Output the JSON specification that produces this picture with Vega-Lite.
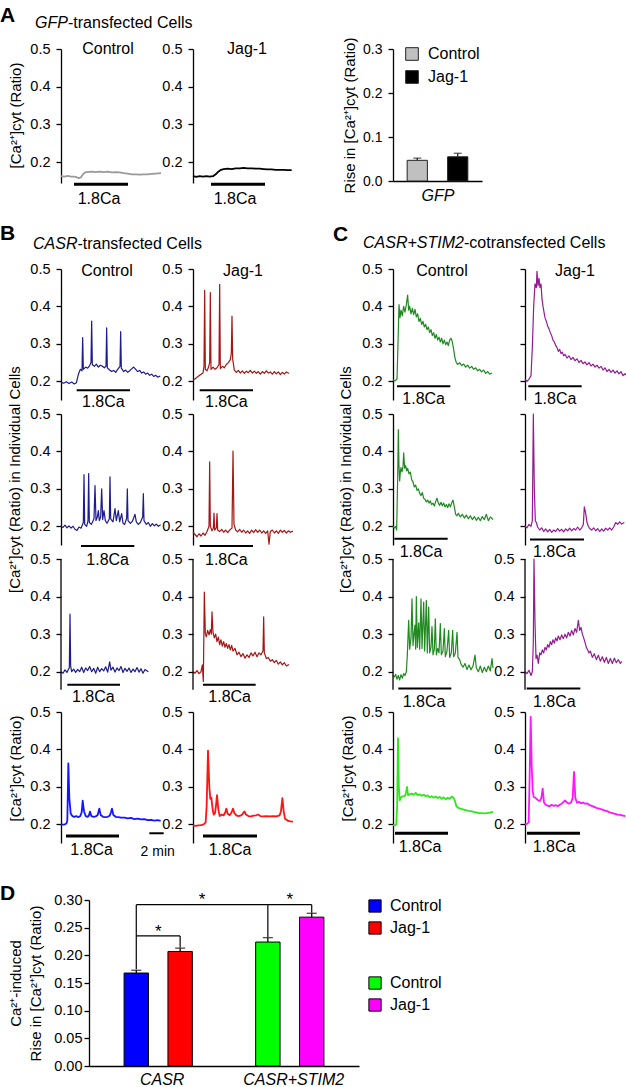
{
"$schema": "https://vega.github.io/schema/vega-lite/v6.json",
"padding": {"left": 0, "top": 5, "right": 0, "bottom": 0},
"background": "white",
"config": {
 "font": "Liberation Sans",
 "view": {"stroke": null},
 "axis": {"grid": false, "domainColor": "#000", "tickColor": "#000", "labelColor": "#000", "titleColor": "#000", "labelFont": "Liberation Sans", "titleFont": "Liberation Sans", "labelFontSize": 14.5, "titleFontSize": 15, "titleFontWeight": "normal", "tickSize": 5, "labelPadding": 6, "domainWidth": 1.3, "tickWidth": 1.3},
 "text": {"font": "Liberation Sans", "fontSize": 16, "baseline": "middle", "align": "center", "color": "#000"},
 "legend": {"labelFont": "Liberation Sans", "labelFontSize": 16, "labelColor": "#000"},
 "title": {"font": "Liberation Sans", "color": "#000"},
 "line": {"strokeJoin": "round"},
 "rule": {"color": "#000"}
},
"resolve": {"scale": {"fill": "independent", "color": "independent"}, "legend": {"fill": "independent", "color": "independent"}},
"datasets": {
 "a_c": [{"t":0,"v":0.163},{"t":0.5,"v":0.162},{"t":1,"v":0.164},{"t":1.5,"v":0.162},{"t":2,"v":0.162},{"t":2.4,"v":0.16},{"t":2.7,"v":0.158},{"t":3.0,"v":0.16},{"t":3.3,"v":0.168},{"t":3.6,"v":0.173},{"t":4,"v":0.174},{"t":4.6,"v":0.175},{"t":5.2,"v":0.174},{"t":5.8,"v":0.175},{"t":6.4,"v":0.174},{"t":7,"v":0.175},{"t":7.6,"v":0.173},{"t":8.2,"v":0.174},{"t":8.8,"v":0.173},{"t":9.4,"v":0.171},{"t":10,"v":0.17},{"t":10.6,"v":0.168},{"t":11.2,"v":0.168},{"t":11.8,"v":0.167},{"t":12.4,"v":0.168},{"t":13,"v":0.168},{"t":13.6,"v":0.169},{"t":14.2,"v":0.17},{"t":15,"v":0.171}],
 "a_j": [{"t":0,"v":0.163},{"t":0.5,"v":0.161},{"t":1,"v":0.163},{"t":1.5,"v":0.162},{"t":2,"v":0.163},{"t":2.5,"v":0.162},{"t":3,"v":0.163},{"t":3.4,"v":0.168},{"t":3.8,"v":0.175},{"t":4.2,"v":0.18},{"t":4.6,"v":0.182},{"t":5.2,"v":0.183},{"t":5.8,"v":0.182},{"t":6.4,"v":0.184},{"t":7,"v":0.184},{"t":7.6,"v":0.185},{"t":8.2,"v":0.184},{"t":8.8,"v":0.184},{"t":9.4,"v":0.183},{"t":10,"v":0.183},{"t":10.6,"v":0.182},{"t":11.2,"v":0.181},{"t":11.8,"v":0.181},{"t":12.4,"v":0.18},{"t":13,"v":0.18},{"t":13.6,"v":0.18},{"t":14.2,"v":0.179},{"t":14.8,"v":0.179}],
 "b1c": [{"t":0,"v":0.197},{"t":0.4,"v":0.195},{"t":0.8,"v":0.199},{"t":1.2,"v":0.194},{"t":1.6,"v":0.198},{"t":2.0,"v":0.193},{"t":2.3,"v":0.196},{"t":2.6,"v":0.218},{"t":2.9,"v":0.232},{"t":3.15,"v":0.228},{"t":3.25,"v":0.317},{"t":3.35,"v":0.232},{"t":3.7,"v":0.238},{"t":4.0,"v":0.235},{"t":4.3,"v":0.242},{"t":4.5,"v":0.25},{"t":4.6,"v":0.361},{"t":4.7,"v":0.245},{"t":5.0,"v":0.24},{"t":5.3,"v":0.246},{"t":5.6,"v":0.238},{"t":5.9,"v":0.243},{"t":6.2,"v":0.24},{"t":6.5,"v":0.236},{"t":6.75,"v":0.24},{"t":6.85,"v":0.343},{"t":6.95,"v":0.236},{"t":7.3,"v":0.23},{"t":7.6,"v":0.226},{"t":7.9,"v":0.229},{"t":8.2,"v":0.224},{"t":8.5,"v":0.232},{"t":8.85,"v":0.24},{"t":8.95,"v":0.333},{"t":9.05,"v":0.235},{"t":9.4,"v":0.226},{"t":9.7,"v":0.23},{"t":10.0,"v":0.224},{"t":10.3,"v":0.228},{"t":10.6,"v":0.233},{"t":10.9,"v":0.238},{"t":11.2,"v":0.232},{"t":11.5,"v":0.226},{"t":11.8,"v":0.229},{"t":12.1,"v":0.222},{"t":12.4,"v":0.225},{"t":12.7,"v":0.219},{"t":13.0,"v":0.222},{"t":13.3,"v":0.216},{"t":13.6,"v":0.219},{"t":13.9,"v":0.213},{"t":14.2,"v":0.216},{"t":14.5,"v":0.211},{"t":14.9,"v":0.214}],
 "b1j": [{"t":0,"v":0.203},{"t":0.3,"v":0.206},{"t":0.6,"v":0.211},{"t":0.9,"v":0.215},{"t":1.2,"v":0.219},{"t":1.5,"v":0.222},{"t":1.65,"v":0.24},{"t":1.75,"v":0.443},{"t":1.85,"v":0.232},{"t":2.1,"v":0.228},{"t":2.3,"v":0.236},{"t":2.5,"v":0.25},{"t":2.6,"v":0.437},{"t":2.7,"v":0.232},{"t":3.0,"v":0.238},{"t":3.3,"v":0.232},{"t":3.6,"v":0.236},{"t":3.9,"v":0.245},{"t":4.0,"v":0.459},{"t":4.1,"v":0.234},{"t":4.4,"v":0.24},{"t":4.7,"v":0.236},{"t":5.0,"v":0.245},{"t":5.3,"v":0.25},{"t":5.6,"v":0.258},{"t":5.75,"v":0.275},{"t":5.85,"v":0.374},{"t":5.95,"v":0.26},{"t":6.2,"v":0.23},{"t":6.5,"v":0.224},{"t":6.8,"v":0.229},{"t":7.1,"v":0.222},{"t":7.4,"v":0.228},{"t":7.7,"v":0.221},{"t":8.0,"v":0.227},{"t":8.3,"v":0.223},{"t":8.6,"v":0.229},{"t":8.9,"v":0.222},{"t":9.2,"v":0.227},{"t":9.5,"v":0.221},{"t":9.8,"v":0.226},{"t":10.1,"v":0.219},{"t":10.4,"v":0.226},{"t":10.7,"v":0.221},{"t":11.0,"v":0.228},{"t":11.3,"v":0.222},{"t":11.6,"v":0.225},{"t":11.9,"v":0.219},{"t":12.2,"v":0.226},{"t":12.5,"v":0.22},{"t":12.8,"v":0.225},{"t":13.1,"v":0.218},{"t":13.4,"v":0.224},{"t":13.7,"v":0.219},{"t":14.0,"v":0.225},{"t":14.4,"v":0.221}],
 "c1c": [{"t":0,"v":0.204},{"t":0.3,"v":0.201},{"t":0.6,"v":0.206},{"t":0.75,"v":0.3},{"t":0.9,"v":0.405},{"t":1.05,"v":0.37},{"t":1.2,"v":0.39},{"t":1.4,"v":0.375},{"t":1.6,"v":0.4},{"t":1.8,"v":0.385},{"t":2.0,"v":0.405},{"t":2.2,"v":0.43},{"t":2.35,"v":0.39},{"t":2.5,"v":0.4},{"t":2.7,"v":0.38},{"t":2.9,"v":0.395},{"t":3.1,"v":0.378},{"t":3.3,"v":0.392},{"t":3.5,"v":0.372},{"t":3.7,"v":0.38},{"t":3.9,"v":0.36},{"t":4.1,"v":0.368},{"t":4.3,"v":0.352},{"t":4.5,"v":0.36},{"t":4.7,"v":0.345},{"t":4.9,"v":0.352},{"t":5.1,"v":0.338},{"t":5.3,"v":0.345},{"t":5.5,"v":0.33},{"t":5.7,"v":0.338},{"t":5.9,"v":0.322},{"t":6.1,"v":0.33},{"t":6.3,"v":0.315},{"t":6.5,"v":0.325},{"t":6.7,"v":0.31},{"t":6.9,"v":0.318},{"t":7.1,"v":0.305},{"t":7.3,"v":0.315},{"t":7.5,"v":0.3},{"t":7.7,"v":0.31},{"t":7.9,"v":0.298},{"t":8.1,"v":0.305},{"t":8.3,"v":0.295},{"t":8.5,"v":0.31},{"t":8.7,"v":0.315},{"t":8.9,"v":0.305},{"t":9.1,"v":0.285},{"t":9.3,"v":0.262},{"t":9.5,"v":0.25},{"t":9.7,"v":0.245},{"t":10.0,"v":0.25},{"t":10.3,"v":0.242},{"t":10.6,"v":0.246},{"t":10.9,"v":0.238},{"t":11.2,"v":0.243},{"t":11.5,"v":0.235},{"t":11.8,"v":0.24},{"t":12.1,"v":0.232},{"t":12.4,"v":0.236},{"t":12.7,"v":0.228},{"t":13.0,"v":0.232},{"t":13.3,"v":0.225},{"t":13.6,"v":0.23},{"t":13.9,"v":0.221},{"t":14.2,"v":0.226},{"t":14.5,"v":0.219},{"t":14.85,"v":0.222}],
 "c1j": [{"t":0,"v":0.205},{"t":0.3,"v":0.2},{"t":0.6,"v":0.206},{"t":0.9,"v":0.215},{"t":1.1,"v":0.29},{"t":1.3,"v":0.4},{"t":1.5,"v":0.46},{"t":1.7,"v":0.45},{"t":1.8,"v":0.494},{"t":1.95,"v":0.455},{"t":2.1,"v":0.475},{"t":2.25,"v":0.45},{"t":2.4,"v":0.46},{"t":2.55,"v":0.42},{"t":2.7,"v":0.4},{"t":2.85,"v":0.385},{"t":3.0,"v":0.37},{"t":3.2,"v":0.36},{"t":3.4,"v":0.348},{"t":3.6,"v":0.34},{"t":3.8,"v":0.33},{"t":4.0,"v":0.322},{"t":4.2,"v":0.31},{"t":4.4,"v":0.305},{"t":4.6,"v":0.296},{"t":4.8,"v":0.29},{"t":5.0,"v":0.28},{"t":5.2,"v":0.285},{"t":5.4,"v":0.274},{"t":5.6,"v":0.278},{"t":5.8,"v":0.268},{"t":6.0,"v":0.272},{"t":6.3,"v":0.262},{"t":6.6,"v":0.268},{"t":6.9,"v":0.258},{"t":7.2,"v":0.264},{"t":7.5,"v":0.255},{"t":7.8,"v":0.26},{"t":8.1,"v":0.25},{"t":8.4,"v":0.256},{"t":8.7,"v":0.247},{"t":9.0,"v":0.252},{"t":9.3,"v":0.244},{"t":9.6,"v":0.25},{"t":9.9,"v":0.241},{"t":10.2,"v":0.246},{"t":10.5,"v":0.238},{"t":10.8,"v":0.243},{"t":11.1,"v":0.235},{"t":11.4,"v":0.24},{"t":11.7,"v":0.23},{"t":12.0,"v":0.236},{"t":12.3,"v":0.226},{"t":12.6,"v":0.232},{"t":12.9,"v":0.224},{"t":13.2,"v":0.23},{"t":13.5,"v":0.222},{"t":13.8,"v":0.228},{"t":14.1,"v":0.22},{"t":14.4,"v":0.226},{"t":14.7,"v":0.215},{"t":15.0,"v":0.22},{"t":15.2,"v":0.217}],
 "b2c": [{"t":0,"v":0.2},{"t":0.3,"v":0.197},{"t":0.6,"v":0.203},{"t":0.9,"v":0.196},{"t":1.2,"v":0.201},{"t":1.5,"v":0.195},{"t":1.8,"v":0.2},{"t":2.1,"v":0.192},{"t":2.4,"v":0.189},{"t":2.7,"v":0.198},{"t":3.0,"v":0.195},{"t":3.35,"v":0.21},{"t":3.45,"v":0.338},{"t":3.55,"v":0.205},{"t":3.85,"v":0.2},{"t":4.05,"v":0.215},{"t":4.15,"v":0.341},{"t":4.25,"v":0.21},{"t":4.55,"v":0.205},{"t":4.95,"v":0.22},{"t":5.1,"v":0.309},{"t":5.25,"v":0.215},{"t":5.45,"v":0.225},{"t":5.6,"v":0.242},{"t":5.75,"v":0.215},{"t":5.95,"v":0.225},{"t":6.1,"v":0.3},{"t":6.25,"v":0.218},{"t":6.45,"v":0.242},{"t":6.65,"v":0.215},{"t":6.9,"v":0.208},{"t":7.25,"v":0.22},{"t":7.35,"v":0.332},{"t":7.45,"v":0.22},{"t":7.8,"v":0.212},{"t":8.1,"v":0.247},{"t":8.3,"v":0.215},{"t":8.6,"v":0.242},{"t":8.8,"v":0.212},{"t":9.1,"v":0.234},{"t":9.3,"v":0.208},{"t":9.55,"v":0.205},{"t":9.85,"v":0.222},{"t":9.95,"v":0.3},{"t":10.05,"v":0.215},{"t":10.4,"v":0.208},{"t":10.7,"v":0.213},{"t":11.1,"v":0.232},{"t":11.3,"v":0.212},{"t":11.6,"v":0.205},{"t":11.9,"v":0.21},{"t":12.25,"v":0.225},{"t":12.35,"v":0.287},{"t":12.45,"v":0.215},{"t":12.8,"v":0.205},{"t":13.1,"v":0.21},{"t":13.4,"v":0.2},{"t":13.7,"v":0.207},{"t":14.0,"v":0.201},{"t":14.3,"v":0.206},{"t":14.6,"v":0.2},{"t":14.95,"v":0.204}],
 "b2j": [{"t":0,"v":0.185},{"t":0.3,"v":0.178},{"t":0.6,"v":0.172},{"t":0.9,"v":0.18},{"t":1.2,"v":0.174},{"t":1.5,"v":0.182},{"t":1.8,"v":0.176},{"t":2.1,"v":0.186},{"t":2.4,"v":0.2},{"t":2.5,"v":0.372},{"t":2.6,"v":0.2},{"t":2.85,"v":0.188},{"t":3.05,"v":0.195},{"t":3.15,"v":0.235},{"t":3.25,"v":0.19},{"t":3.5,"v":0.196},{"t":3.6,"v":0.234},{"t":3.7,"v":0.19},{"t":4.0,"v":0.186},{"t":4.3,"v":0.192},{"t":4.6,"v":0.184},{"t":4.9,"v":0.19},{"t":5.2,"v":0.183},{"t":5.5,"v":0.19},{"t":5.85,"v":0.195},{"t":6.0,"v":0.401},{"t":6.15,"v":0.205},{"t":6.4,"v":0.19},{"t":6.7,"v":0.185},{"t":7.0,"v":0.192},{"t":7.3,"v":0.184},{"t":7.6,"v":0.19},{"t":7.9,"v":0.182},{"t":8.2,"v":0.188},{"t":8.5,"v":0.181},{"t":8.8,"v":0.19},{"t":9.1,"v":0.183},{"t":9.4,"v":0.191},{"t":9.7,"v":0.184},{"t":10.0,"v":0.19},{"t":10.3,"v":0.182},{"t":10.6,"v":0.188},{"t":10.9,"v":0.181},{"t":11.2,"v":0.188},{"t":11.4,"v":0.152},{"t":11.6,"v":0.186},{"t":11.9,"v":0.19},{"t":12.2,"v":0.182},{"t":12.5,"v":0.188},{"t":12.8,"v":0.181},{"t":13.1,"v":0.19},{"t":13.4,"v":0.184},{"t":13.7,"v":0.189},{"t":14.0,"v":0.182},{"t":14.3,"v":0.188},{"t":14.6,"v":0.184},{"t":15.0,"v":0.187}],
 "c2c": [{"t":0,"v":0.2},{"t":0.2,"v":0.195},{"t":0.4,"v":0.2},{"t":0.55,"v":0.19},{"t":0.7,"v":0.33},{"t":0.8,"v":0.458},{"t":0.9,"v":0.36},{"t":1.0,"v":0.321},{"t":1.1,"v":0.345},{"t":1.2,"v":0.357},{"t":1.35,"v":0.345},{"t":1.5,"v":0.36},{"t":1.6,"v":0.396},{"t":1.75,"v":0.355},{"t":1.9,"v":0.362},{"t":2.05,"v":0.348},{"t":2.2,"v":0.355},{"t":2.4,"v":0.34},{"t":2.6,"v":0.345},{"t":2.8,"v":0.325},{"t":3.0,"v":0.318},{"t":3.2,"v":0.305},{"t":3.4,"v":0.31},{"t":3.6,"v":0.296},{"t":3.8,"v":0.3},{"t":4.0,"v":0.288},{"t":4.2,"v":0.282},{"t":4.4,"v":0.29},{"t":4.6,"v":0.275},{"t":4.8,"v":0.272},{"t":5.0,"v":0.265},{"t":5.2,"v":0.27},{"t":5.4,"v":0.262},{"t":5.6,"v":0.268},{"t":5.8,"v":0.258},{"t":6.0,"v":0.262},{"t":6.2,"v":0.254},{"t":6.4,"v":0.266},{"t":6.6,"v":0.275},{"t":6.8,"v":0.262},{"t":7.0,"v":0.256},{"t":7.2,"v":0.264},{"t":7.4,"v":0.255},{"t":7.6,"v":0.262},{"t":7.8,"v":0.252},{"t":8.0,"v":0.258},{"t":8.2,"v":0.25},{"t":8.4,"v":0.26},{"t":8.6,"v":0.252},{"t":8.8,"v":0.262},{"t":9.0,"v":0.27},{"t":9.2,"v":0.252},{"t":9.4,"v":0.232},{"t":9.6,"v":0.228},{"t":9.8,"v":0.235},{"t":10.1,"v":0.225},{"t":10.4,"v":0.232},{"t":10.7,"v":0.222},{"t":11.0,"v":0.23},{"t":11.3,"v":0.22},{"t":11.6,"v":0.228},{"t":11.9,"v":0.218},{"t":12.2,"v":0.226},{"t":12.5,"v":0.216},{"t":12.8,"v":0.224},{"t":13.1,"v":0.215},{"t":13.4,"v":0.226},{"t":13.7,"v":0.218},{"t":14.0,"v":0.232},{"t":14.3,"v":0.215},{"t":14.6,"v":0.225},{"t":15.0,"v":0.218}],
 "c2j": [{"t":0,"v":0.2},{"t":0.3,"v":0.196},{"t":0.6,"v":0.205},{"t":0.9,"v":0.2},{"t":1.1,"v":0.215},{"t":1.25,"v":0.5},{"t":1.4,"v":0.3},{"t":1.55,"v":0.215},{"t":1.7,"v":0.21},{"t":1.9,"v":0.198},{"t":2.2,"v":0.19},{"t":2.5,"v":0.196},{"t":2.8,"v":0.186},{"t":3.1,"v":0.193},{"t":3.4,"v":0.185},{"t":3.7,"v":0.192},{"t":4.0,"v":0.184},{"t":4.3,"v":0.19},{"t":4.6,"v":0.186},{"t":4.9,"v":0.194},{"t":5.2,"v":0.187},{"t":5.5,"v":0.192},{"t":5.8,"v":0.185},{"t":6.1,"v":0.193},{"t":6.4,"v":0.188},{"t":6.7,"v":0.195},{"t":7.0,"v":0.188},{"t":7.3,"v":0.194},{"t":7.6,"v":0.19},{"t":7.9,"v":0.198},{"t":8.2,"v":0.19},{"t":8.5,"v":0.196},{"t":8.75,"v":0.205},{"t":8.9,"v":0.252},{"t":9.1,"v":0.235},{"t":9.3,"v":0.21},{"t":9.5,"v":0.2},{"t":9.7,"v":0.194},{"t":10.0,"v":0.19},{"t":10.3,"v":0.196},{"t":10.6,"v":0.188},{"t":10.9,"v":0.194},{"t":11.2,"v":0.186},{"t":11.5,"v":0.193},{"t":11.8,"v":0.187},{"t":12.1,"v":0.195},{"t":12.4,"v":0.19},{"t":12.7,"v":0.196},{"t":13.0,"v":0.19},{"t":13.3,"v":0.198},{"t":13.6,"v":0.21},{"t":13.9,"v":0.205},{"t":14.2,"v":0.212},{"t":14.5,"v":0.206},{"t":14.9,"v":0.21}],
 "b3c": [{"t":0,"v":0.2},{"t":0.3,"v":0.196},{"t":0.6,"v":0.205},{"t":0.9,"v":0.198},{"t":1.1,"v":0.206},{"t":1.25,"v":0.21},{"t":1.35,"v":0.353},{"t":1.45,"v":0.215},{"t":1.6,"v":0.2},{"t":1.9,"v":0.207},{"t":2.2,"v":0.198},{"t":2.5,"v":0.206},{"t":2.8,"v":0.2},{"t":3.1,"v":0.212},{"t":3.4,"v":0.198},{"t":3.7,"v":0.21},{"t":4.0,"v":0.203},{"t":4.3,"v":0.214},{"t":4.6,"v":0.2},{"t":4.9,"v":0.209},{"t":5.2,"v":0.196},{"t":5.5,"v":0.212},{"t":5.8,"v":0.2},{"t":6.1,"v":0.208},{"t":6.4,"v":0.202},{"t":6.7,"v":0.213},{"t":7.0,"v":0.199},{"t":7.3,"v":0.226},{"t":7.5,"v":0.204},{"t":7.8,"v":0.212},{"t":8.1,"v":0.199},{"t":8.4,"v":0.21},{"t":8.7,"v":0.203},{"t":9.0,"v":0.214},{"t":9.3,"v":0.198},{"t":9.6,"v":0.209},{"t":9.9,"v":0.201},{"t":10.2,"v":0.21},{"t":10.5,"v":0.198},{"t":10.8,"v":0.207},{"t":11.1,"v":0.2},{"t":11.4,"v":0.211},{"t":11.7,"v":0.199},{"t":12.0,"v":0.208},{"t":12.3,"v":0.196},{"t":12.6,"v":0.206},{"t":13.1,"v":0.2}],
 "b3j": [{"t":0,"v":0.2},{"t":0.3,"v":0.196},{"t":0.6,"v":0.203},{"t":0.9,"v":0.195},{"t":1.2,"v":0.2},{"t":1.4,"v":0.218},{"t":1.55,"v":0.174},{"t":1.7,"v":0.412},{"t":1.85,"v":0.3},{"t":2.0,"v":0.293},{"t":2.2,"v":0.31},{"t":2.4,"v":0.298},{"t":2.6,"v":0.312},{"t":2.75,"v":0.3},{"t":2.85,"v":0.359},{"t":3.0,"v":0.305},{"t":3.2,"v":0.29},{"t":3.4,"v":0.3},{"t":3.6,"v":0.28},{"t":3.8,"v":0.292},{"t":4.0,"v":0.272},{"t":4.2,"v":0.285},{"t":4.4,"v":0.268},{"t":4.6,"v":0.28},{"t":4.8,"v":0.265},{"t":5.0,"v":0.275},{"t":5.2,"v":0.262},{"t":5.4,"v":0.272},{"t":5.6,"v":0.258},{"t":5.8,"v":0.27},{"t":6.0,"v":0.255},{"t":6.3,"v":0.262},{"t":6.6,"v":0.245},{"t":6.9,"v":0.252},{"t":7.2,"v":0.24},{"t":7.5,"v":0.248},{"t":7.8,"v":0.236},{"t":8.1,"v":0.245},{"t":8.4,"v":0.238},{"t":8.7,"v":0.25},{"t":9.0,"v":0.242},{"t":9.3,"v":0.252},{"t":9.6,"v":0.24},{"t":9.9,"v":0.25},{"t":10.2,"v":0.245},{"t":10.5,"v":0.255},{"t":10.6,"v":0.346},{"t":10.7,"v":0.25},{"t":11.0,"v":0.235},{"t":11.3,"v":0.238},{"t":11.6,"v":0.228},{"t":11.9,"v":0.232},{"t":12.2,"v":0.224},{"t":12.5,"v":0.23},{"t":12.8,"v":0.22},{"t":13.1,"v":0.226},{"t":13.4,"v":0.218},{"t":13.7,"v":0.224},{"t":14.0,"v":0.215},{"t":14.4,"v":0.219}],
 "c3c": [{"t":0,"v":0.19},{"t":0.2,"v":0.186},{"t":0.4,"v":0.193},{"t":0.6,"v":0.18},{"t":0.8,"v":0.19},{"t":1.0,"v":0.178},{"t":1.2,"v":0.192},{"t":1.4,"v":0.183},{"t":1.6,"v":0.195},{"t":1.8,"v":0.19},{"t":2.0,"v":0.2},{"t":2.15,"v":0.245},{"t":2.35,"v":0.337},{"t":2.5,"v":0.26},{"t":2.7,"v":0.29},{"t":2.85,"v":0.394},{"t":3.0,"v":0.27},{"t":3.15,"v":0.3},{"t":3.3,"v":0.324},{"t":3.4,"v":0.26},{"t":3.5,"v":0.4},{"t":3.65,"v":0.265},{"t":3.85,"v":0.33},{"t":4.0,"v":0.26},{"t":4.2,"v":0.394},{"t":4.35,"v":0.262},{"t":4.6,"v":0.385},{"t":4.75,"v":0.255},{"t":5.0,"v":0.39},{"t":5.15,"v":0.25},{"t":5.35,"v":0.372},{"t":5.5,"v":0.25},{"t":5.7,"v":0.265},{"t":5.85,"v":0.32},{"t":6.0,"v":0.245},{"t":6.2,"v":0.26},{"t":6.35,"v":0.341},{"t":6.5,"v":0.245},{"t":6.7,"v":0.262},{"t":6.9,"v":0.25},{"t":7.1,"v":0.328},{"t":7.25,"v":0.245},{"t":7.5,"v":0.255},{"t":7.7,"v":0.315},{"t":7.85,"v":0.24},{"t":8.1,"v":0.255},{"t":8.35,"v":0.31},{"t":8.5,"v":0.238},{"t":8.75,"v":0.25},{"t":8.95,"v":0.31},{"t":9.1,"v":0.24},{"t":9.35,"v":0.25},{"t":9.6,"v":0.305},{"t":9.75,"v":0.238},{"t":10.0,"v":0.232},{"t":10.2,"v":0.22},{"t":10.5,"v":0.212},{"t":10.8,"v":0.222},{"t":11.1,"v":0.206},{"t":11.4,"v":0.218},{"t":11.7,"v":0.205},{"t":12.0,"v":0.215},{"t":12.3,"v":0.244},{"t":12.5,"v":0.21},{"t":12.8,"v":0.2},{"t":13.1,"v":0.215},{"t":13.4,"v":0.198},{"t":13.7,"v":0.212},{"t":14.0,"v":0.2},{"t":14.3,"v":0.215},{"t":14.6,"v":0.202},{"t":14.85,"v":0.235},{"t":15.0,"v":0.21}],
 "c3j": [{"t":0,"v":0.2},{"t":0.3,"v":0.195},{"t":0.6,"v":0.204},{"t":0.9,"v":0.19},{"t":1.1,"v":0.2},{"t":1.25,"v":0.28},{"t":1.35,"v":0.5},{"t":1.5,"v":0.33},{"t":1.65,"v":0.235},{"t":1.8,"v":0.244},{"t":2.0,"v":0.222},{"t":2.2,"v":0.25},{"t":2.4,"v":0.245},{"t":2.6,"v":0.258},{"t":2.8,"v":0.25},{"t":3.0,"v":0.265},{"t":3.2,"v":0.258},{"t":3.4,"v":0.272},{"t":3.6,"v":0.265},{"t":3.8,"v":0.28},{"t":4.0,"v":0.272},{"t":4.2,"v":0.285},{"t":4.4,"v":0.276},{"t":4.6,"v":0.29},{"t":4.8,"v":0.282},{"t":5.0,"v":0.295},{"t":5.25,"v":0.285},{"t":5.5,"v":0.298},{"t":5.75,"v":0.288},{"t":6.0,"v":0.3},{"t":6.25,"v":0.29},{"t":6.5,"v":0.305},{"t":6.75,"v":0.295},{"t":7.0,"v":0.31},{"t":7.25,"v":0.298},{"t":7.5,"v":0.315},{"t":7.75,"v":0.305},{"t":8.0,"v":0.337},{"t":8.2,"v":0.31},{"t":8.4,"v":0.318},{"t":8.6,"v":0.3},{"t":8.8,"v":0.29},{"t":9.0,"v":0.278},{"t":9.2,"v":0.265},{"t":9.4,"v":0.258},{"t":9.6,"v":0.25},{"t":9.8,"v":0.255},{"t":10.1,"v":0.238},{"t":10.4,"v":0.248},{"t":10.7,"v":0.232},{"t":11.0,"v":0.244},{"t":11.3,"v":0.228},{"t":11.6,"v":0.24},{"t":11.9,"v":0.225},{"t":12.2,"v":0.238},{"t":12.5,"v":0.222},{"t":12.8,"v":0.235},{"t":13.1,"v":0.222},{"t":13.4,"v":0.236},{"t":13.7,"v":0.224},{"t":14.0,"v":0.232},{"t":14.3,"v":0.222},{"t":14.5,"v":0.228}],
 "b4c": [{"t":0,"v":0.2},{"t":0.3,"v":0.199},{"t":0.6,"v":0.2},{"t":0.85,"v":0.203},{"t":0.95,"v":0.211},{"t":1.1,"v":0.363},{"t":1.25,"v":0.27},{"t":1.45,"v":0.229},{"t":1.7,"v":0.222},{"t":2.0,"v":0.22},{"t":2.3,"v":0.222},{"t":2.6,"v":0.219},{"t":2.9,"v":0.222},{"t":3.1,"v":0.232},{"t":3.25,"v":0.263},{"t":3.45,"v":0.235},{"t":3.7,"v":0.222},{"t":4.0,"v":0.22},{"t":4.2,"v":0.224},{"t":4.35,"v":0.234},{"t":4.55,"v":0.222},{"t":4.9,"v":0.22},{"t":5.2,"v":0.221},{"t":5.5,"v":0.225},{"t":5.75,"v":0.242},{"t":5.95,"v":0.225},{"t":6.3,"v":0.22},{"t":6.7,"v":0.219},{"t":7.0,"v":0.22},{"t":7.3,"v":0.223},{"t":7.5,"v":0.232},{"t":7.65,"v":0.242},{"t":7.85,"v":0.225},{"t":8.2,"v":0.22},{"t":8.6,"v":0.219},{"t":9.0,"v":0.218},{"t":9.5,"v":0.218},{"t":10.0,"v":0.216},{"t":10.5,"v":0.217},{"t":11.0,"v":0.214},{"t":11.5,"v":0.215},{"t":12.0,"v":0.213},{"t":12.5,"v":0.214},{"t":13.0,"v":0.211},{"t":13.5,"v":0.212},{"t":14.0,"v":0.21},{"t":14.5,"v":0.211},{"t":14.95,"v":0.209}],
 "b4j": [{"t":0,"v":0.197},{"t":0.4,"v":0.196},{"t":0.8,"v":0.197},{"t":1.2,"v":0.198},{"t":1.6,"v":0.2},{"t":1.9,"v":0.205},{"t":2.05,"v":0.25},{"t":2.25,"v":0.397},{"t":2.45,"v":0.3},{"t":2.6,"v":0.268},{"t":2.75,"v":0.271},{"t":2.95,"v":0.24},{"t":3.1,"v":0.226},{"t":3.3,"v":0.23},{"t":3.45,"v":0.25},{"t":3.6,"v":0.278},{"t":3.8,"v":0.24},{"t":4.0,"v":0.222},{"t":4.3,"v":0.226},{"t":4.6,"v":0.224},{"t":4.85,"v":0.232},{"t":5.0,"v":0.242},{"t":5.2,"v":0.228},{"t":5.5,"v":0.224},{"t":5.8,"v":0.232},{"t":6.0,"v":0.242},{"t":6.2,"v":0.23},{"t":6.5,"v":0.224},{"t":6.8,"v":0.222},{"t":7.1,"v":0.223},{"t":7.4,"v":0.226},{"t":7.6,"v":0.232},{"t":7.75,"v":0.234},{"t":7.95,"v":0.226},{"t":8.3,"v":0.222},{"t":8.7,"v":0.221},{"t":9.1,"v":0.223},{"t":9.5,"v":0.224},{"t":9.75,"v":0.226},{"t":10.1,"v":0.222},{"t":10.5,"v":0.221},{"t":11.0,"v":0.222},{"t":11.5,"v":0.221},{"t":12.0,"v":0.222},{"t":12.5,"v":0.221},{"t":13.0,"v":0.224},{"t":13.2,"v":0.235},{"t":13.4,"v":0.27},{"t":13.6,"v":0.235},{"t":13.8,"v":0.215},{"t":14.2,"v":0.21},{"t":14.6,"v":0.208},{"t":15.0,"v":0.207}],
 "c4c": [{"t":0,"v":0.198},{"t":0.3,"v":0.197},{"t":0.5,"v":0.2},{"t":0.62,"v":0.25},{"t":0.75,"v":0.43},{"t":0.88,"v":0.3},{"t":1.0,"v":0.264},{"t":1.2,"v":0.272},{"t":1.5,"v":0.275},{"t":1.8,"v":0.276},{"t":1.95,"v":0.285},{"t":2.1,"v":0.3},{"t":2.25,"v":0.278},{"t":2.5,"v":0.28},{"t":2.8,"v":0.282},{"t":3.1,"v":0.279},{"t":3.4,"v":0.284},{"t":3.7,"v":0.278},{"t":4.0,"v":0.28},{"t":4.3,"v":0.276},{"t":4.6,"v":0.279},{"t":4.9,"v":0.275},{"t":5.2,"v":0.277},{"t":5.5,"v":0.272},{"t":5.8,"v":0.275},{"t":6.1,"v":0.271},{"t":6.4,"v":0.274},{"t":6.7,"v":0.27},{"t":7.0,"v":0.273},{"t":7.3,"v":0.268},{"t":7.6,"v":0.272},{"t":7.9,"v":0.267},{"t":8.2,"v":0.271},{"t":8.5,"v":0.268},{"t":8.8,"v":0.274},{"t":9.1,"v":0.27},{"t":9.3,"v":0.262},{"t":9.5,"v":0.248},{"t":9.8,"v":0.244},{"t":10.1,"v":0.242},{"t":10.5,"v":0.24},{"t":10.9,"v":0.238},{"t":11.3,"v":0.236},{"t":11.7,"v":0.235},{"t":12.1,"v":0.233},{"t":12.5,"v":0.232},{"t":12.9,"v":0.23},{"t":13.3,"v":0.23},{"t":13.7,"v":0.229},{"t":14.1,"v":0.23},{"t":14.5,"v":0.231},{"t":15.0,"v":0.233}],
 "c4j": [{"t":0,"v":0.2},{"t":0.3,"v":0.201},{"t":0.55,"v":0.205},{"t":0.7,"v":0.33},{"t":0.85,"v":0.487},{"t":1.0,"v":0.36},{"t":1.15,"v":0.29},{"t":1.3,"v":0.273},{"t":1.6,"v":0.27},{"t":1.9,"v":0.265},{"t":2.2,"v":0.262},{"t":2.45,"v":0.27},{"t":2.65,"v":0.295},{"t":2.85,"v":0.258},{"t":3.1,"v":0.252},{"t":3.4,"v":0.25},{"t":3.7,"v":0.248},{"t":4.0,"v":0.252},{"t":4.3,"v":0.249},{"t":4.6,"v":0.251},{"t":4.9,"v":0.248},{"t":5.2,"v":0.252},{"t":5.5,"v":0.255},{"t":5.8,"v":0.26},{"t":6.0,"v":0.264},{"t":6.3,"v":0.258},{"t":6.6,"v":0.255},{"t":6.9,"v":0.258},{"t":7.15,"v":0.27},{"t":7.35,"v":0.34},{"t":7.55,"v":0.27},{"t":7.8,"v":0.258},{"t":8.1,"v":0.26},{"t":8.4,"v":0.256},{"t":8.7,"v":0.258},{"t":9.0,"v":0.255},{"t":9.3,"v":0.256},{"t":9.6,"v":0.252},{"t":9.9,"v":0.25},{"t":10.3,"v":0.247},{"t":10.7,"v":0.244},{"t":11.1,"v":0.242},{"t":11.5,"v":0.24},{"t":11.9,"v":0.237},{"t":12.3,"v":0.235},{"t":12.7,"v":0.232},{"t":13.1,"v":0.23},{"t":13.5,"v":0.228},{"t":13.9,"v":0.226},{"t":14.3,"v":0.225},{"t":14.7,"v":0.223},{"t":15.05,"v":0.222}]
},
"spacing": 24,
"vconcat": [
{
 "columns": 4, "align": "each", "bounds": "flush", "spacing": {"row": 14, "column": 32},
 "resolve": {"scale": {"fill": "independent", "color": "independent"}, "legend": {"fill": "independent", "color": "independent"}},
 "concat": [
  {"width": 100, "height": 134, "layer": [
   {"data": {"name": "a_c"}, "mark": {"type": "line", "color": "#9a9a9a", "strokeWidth": 1.8},
    "encoding": {"x": {"field": "t", "type": "quantitative", "scale": {"domain": [0, 15], "nice": false}, "axis": null},
     "y": {"field": "v", "type": "quantitative", "scale": {"domain": [0.145, 0.5], "nice": false, "zero": false}, "axis": {"values": [0.2, 0.3, 0.4, 0.5], "format": ".1f", "title": "[Ca\u00b2\u207a]cyt (Ratio)", "titleX": -46, "titleY": 66, "titleBaseline": "middle"}}}},
   {"data": {"values": [{}]}, "mark": {"type": "rule", "strokeWidth": 3}, "encoding": {"x": {"datum": 1.95, "axis": null}, "x2": {"datum": 10.05}, "y": {"datum": 0.142}}},
   {"data": {"values": [{}]}, "mark": {"type": "text", "text": "1.8Ca"}, "encoding": {"x": {"datum": 5.7, "axis": null}, "y": {"datum": 0.103}}},
   {"data": {"values": [{}]}, "mark": {"type": "text", "text": "Control"}, "encoding": {"x": {"datum": 7.05, "axis": null}, "y": {"datum": 0.5}}},
   {"data": {"values": [{}]}, "mark": {"type": "text", "text": "A", "fontSize": 21, "fontWeight": "bold", "align": "left"}, "encoding": {"x": {"datum": -9.15, "axis": null}, "y": {"datum": 0.587}}},
   {"data": {"values": [{}]}, "mark": {"type": "text", "text": "GFP", "fontStyle": "italic", "align": "left"}, "encoding": {"x": {"datum": -3.9, "axis": null}, "y": {"datum": 0.568}}},
   {"data": {"values": [{}]}, "mark": {"type": "text", "text": "-transfected Cells", "align": "left"}, "encoding": {"x": {"datum": 1.05, "axis": null}, "y": {"datum": 0.568}}}
  ]},
  {"width": 168, "height": 134, "layer": [
   {"data": {"name": "a_j"}, "mark": {"type": "line", "color": "#000", "strokeWidth": 1.8},
    "encoding": {"x": {"field": "t", "type": "quantitative", "scale": {"domain": [0, 25.2], "nice": false}, "axis": null},
     "y": {"field": "v", "type": "quantitative", "scale": {"domain": [0.145, 0.5], "nice": false, "zero": false}, "axis": {"values": [0.2, 0.3, 0.4, 0.5], "format": ".1f", "title": null}}}},
   {"data": {"values": [{}]}, "mark": {"type": "rule", "strokeWidth": 3}, "encoding": {"x": {"datum": 2.7, "axis": null}, "x2": {"datum": 10.8}, "y": {"datum": 0.142}}},
   {"data": {"values": [{}]}, "mark": {"type": "text", "text": "1.8Ca"}, "encoding": {"x": {"datum": 6.3, "axis": null}, "y": {"datum": 0.103}}},
   {"data": {"values": [{}]}, "mark": {"type": "text", "text": "Jag-1"}, "encoding": {"x": {"datum": 8.1, "axis": null}, "y": {"datum": 0.5}}}
  ]},
  {"width": 89, "height": 132,
   "data": {"values": [{"cond": "Control", "mean": 0.047, "upper": 0.052}, {"cond": "Jag-1", "mean": 0.055, "upper": 0.063}]},
   "encoding": {"x": {"field": "cond", "type": "nominal", "sort": null, "scale": {"paddingInner": 0.5, "paddingOuter": 0.35}, "axis": {"title": "GFP", "titleFontStyle": "italic", "titleFontSize": 16, "titlePadding": 6, "labels": false, "ticks": false}}},
   "layer": [
    {"mark": {"type": "bar", "stroke": "#222", "strokeWidth": 1},
     "encoding": {"y": {"field": "mean", "type": "quantitative", "scale": {"domain": [0, 0.3], "nice": false}, "axis": {"values": [0, 0.1, 0.2, 0.3], "format": ".1f", "labelFontSize": 14, "title": "Rise in [Ca\u00b2\u207a]cyt (Ratio)", "titleX": -44, "titleY": 66, "titleBaseline": "middle"}},
      "fill": {"field": "cond", "type": "nominal", "scale": {"domain": ["Control", "Jag-1"], "range": ["#c0c0c0", "#000000"]}, "legend": {"orient": "none", "legendX": 11, "legendY": -3, "title": null, "symbolType": "square", "symbolSize": 160, "symbolStrokeColor": "#222", "symbolStrokeWidth": 1, "labelFontSize": 16, "labelOffset": 8, "rowPadding": 5}}}},
    {"mark": {"type": "rule", "strokeWidth": 1.3, "color": "#222"}, "encoding": {"y": {"field": "mean", "type": "quantitative"}, "y2": {"field": "upper"}}},
    {"mark": {"type": "tick", "thickness": 1.3, "size": 8, "color": "#222"}, "encoding": {"y": {"field": "upper", "type": "quantitative"}}}
   ]},
  {"width": 100, "height": 206, "data": {"values": [{}]}, "mark": {"type": "point", "opacity": 0}},

  {"width": 100, "height": 131, "layer": [
   {"data": {"name": "b1c"}, "mark": {"type": "line", "color": "#1c1c8e", "strokeWidth": 1.2},
    "encoding": {"x": {"field": "t", "type": "quantitative", "scale": {"domain": [0, 15], "nice": false}, "axis": null},
     "y": {"field": "v", "type": "quantitative", "scale": {"domain": [0.15, 0.5], "nice": false, "zero": false}, "axis": {"values": [0.2, 0.3, 0.4, 0.5], "format": ".1f", "title": null}}}},
   {"data": {"values": [{}]}, "mark": {"type": "rule", "strokeWidth": 2}, "encoding": {"x": {"datum": 2.35, "axis": null}, "x2": {"datum": 10.35}, "y": {"datum": 0.176}}},
   {"data": {"values": [{}]}, "mark": {"type": "text", "text": "1.8Ca"}, "encoding": {"x": {"datum": 6.35, "axis": null}, "y": {"datum": 0.144}}},
   {"data": {"values": [{}]}, "mark": {"type": "text", "text": "Control"}, "encoding": {"x": {"datum": 6.9, "axis": null}, "y": {"datum": 0.495}}},
   {"data": {"values": [{}]}, "mark": {"type": "text", "text": "B", "fontSize": 21, "fontWeight": "bold", "align": "left"}, "encoding": {"x": {"datum": -9.15, "axis": null}, "y": {"datum": 0.593}}},
   {"data": {"values": [{}]}, "mark": {"type": "text", "text": "CASR", "fontStyle": "italic", "align": "left"}, "encoding": {"x": {"datum": -4.2, "axis": null}, "y": {"datum": 0.567}}},
   {"data": {"values": [{}]}, "mark": {"type": "text", "text": "-transfected Cells", "align": "left"}, "encoding": {"x": {"datum": 2.46, "axis": null}, "y": {"datum": 0.567}}}
  ]},
  {"width": 168, "height": 131, "layer": [
   {"data": {"name": "b1j"}, "mark": {"type": "line", "color": "#a51616", "strokeWidth": 1.2},
    "encoding": {"x": {"field": "t", "type": "quantitative", "scale": {"domain": [0, 25.2], "nice": false}, "axis": null},
     "y": {"field": "v", "type": "quantitative", "scale": {"domain": [0.15, 0.5], "nice": false, "zero": false}, "axis": {"values": [0.2, 0.3, 0.4, 0.5], "format": ".1f", "title": null}}}},
   {"data": {"values": [{}]}, "mark": {"type": "rule", "strokeWidth": 2}, "encoding": {"x": {"datum": 1.0, "axis": null}, "x2": {"datum": 9.0}, "y": {"datum": 0.176}}},
   {"data": {"values": [{}]}, "mark": {"type": "text", "text": "1.8Ca"}, "encoding": {"x": {"datum": 5.0, "axis": null}, "y": {"datum": 0.144}}},
   {"data": {"values": [{}]}, "mark": {"type": "text", "text": "Jag-1"}, "encoding": {"x": {"datum": 7.5, "axis": null}, "y": {"datum": 0.495}}}
  ]},
  {"width": 100, "height": 131, "layer": [
   {"data": {"name": "c1c"}, "mark": {"type": "line", "color": "#1f8a1f", "strokeWidth": 1.2},
    "encoding": {"x": {"field": "t", "type": "quantitative", "scale": {"domain": [0, 15], "nice": false}, "axis": null},
     "y": {"field": "v", "type": "quantitative", "scale": {"domain": [0.15, 0.5], "nice": false, "zero": false}, "axis": {"values": [0.2, 0.3, 0.4, 0.5], "format": ".1f", "title": null}}}},
   {"data": {"values": [{}]}, "mark": {"type": "rule", "strokeWidth": 2}, "encoding": {"x": {"datum": 0.6, "axis": null}, "x2": {"datum": 8.6}, "y": {"datum": 0.187}}},
   {"data": {"values": [{}]}, "mark": {"type": "text", "text": "1.8Ca"}, "encoding": {"x": {"datum": 4.6, "axis": null}, "y": {"datum": 0.152}}},
   {"data": {"values": [{}]}, "mark": {"type": "text", "text": "Control"}, "encoding": {"x": {"datum": 7.35, "axis": null}, "y": {"datum": 0.495}}},
   {"data": {"values": [{}]}, "mark": {"type": "text", "text": "C", "fontSize": 21, "fontWeight": "bold", "align": "left"}, "encoding": {"x": {"datum": -9.0, "axis": null}, "y": {"datum": 0.591}}},
   {"data": {"values": [{}]}, "mark": {"type": "text", "text": "CASR+STIM2", "fontStyle": "italic", "align": "left"}, "encoding": {"x": {"datum": -4.5, "axis": null}, "y": {"datum": 0.569}}},
   {"data": {"values": [{}]}, "mark": {"type": "text", "text": "-cotransfected Cells", "align": "left"}, "encoding": {"x": {"datum": 10.65, "axis": null}, "y": {"datum": 0.569}}}
  ]},
  {"width": 100, "height": 131, "layer": [
   {"data": {"name": "c1j"}, "mark": {"type": "line", "color": "#931b93", "strokeWidth": 1.2},
    "encoding": {"x": {"field": "t", "type": "quantitative", "scale": {"domain": [0, 15], "nice": false}, "axis": null},
     "y": {"field": "v", "type": "quantitative", "scale": {"domain": [0.15, 0.5], "nice": false, "zero": false}, "axis": {"values": [0.2, 0.3, 0.4, 0.5], "labels": false, "title": null}}}},
   {"data": {"values": [{}]}, "mark": {"type": "rule", "strokeWidth": 2}, "encoding": {"x": {"datum": 0.5, "axis": null}, "x2": {"datum": 8.5}, "y": {"datum": 0.187}}},
   {"data": {"values": [{}]}, "mark": {"type": "text", "text": "1.8Ca"}, "encoding": {"x": {"datum": 4.5, "axis": null}, "y": {"datum": 0.152}}},
   {"data": {"values": [{}]}, "mark": {"type": "text", "text": "Jag-1"}, "encoding": {"x": {"datum": 7.5, "axis": null}, "y": {"datum": 0.495}}}
  ]},

  {"width": 100, "height": 131, "layer": [
   {"data": {"name": "b2c"}, "mark": {"type": "line", "color": "#1c1c8e", "strokeWidth": 1.2},
    "encoding": {"x": {"field": "t", "type": "quantitative", "scale": {"domain": [0, 15], "nice": false}, "axis": null},
     "y": {"field": "v", "type": "quantitative", "scale": {"domain": [0.15, 0.5], "nice": false, "zero": false}, "axis": {"values": [0.2, 0.3, 0.4, 0.5], "format": ".1f", "title": "[Ca\u00b2\u207a]cyt (Ratio) in Individual Cells", "titleX": -47, "titleY": 65, "titleBaseline": "middle"}}}},
   {"data": {"values": [{}]}, "mark": {"type": "rule", "strokeWidth": 2}, "encoding": {"x": {"datum": 3.0, "axis": null}, "x2": {"datum": 11.0}, "y": {"datum": 0.147}}},
   {"data": {"values": [{}]}, "mark": {"type": "text", "text": "1.8Ca"}, "encoding": {"x": {"datum": 7.0, "axis": null}, "y": {"datum": 0.111}}}
  ]},
  {"width": 168, "height": 131, "layer": [
   {"data": {"name": "b2j"}, "mark": {"type": "line", "color": "#a51616", "strokeWidth": 1.2},
    "encoding": {"x": {"field": "t", "type": "quantitative", "scale": {"domain": [0, 25.2], "nice": false}, "axis": null},
     "y": {"field": "v", "type": "quantitative", "scale": {"domain": [0.15, 0.5], "nice": false, "zero": false}, "axis": {"values": [0.2, 0.3, 0.4, 0.5], "format": ".1f", "title": null}}}},
   {"data": {"values": [{}]}, "mark": {"type": "rule", "strokeWidth": 2}, "encoding": {"x": {"datum": 1.0, "axis": null}, "x2": {"datum": 9.0}, "y": {"datum": 0.147}}},
   {"data": {"values": [{}]}, "mark": {"type": "text", "text": "1.8Ca"}, "encoding": {"x": {"datum": 5.0, "axis": null}, "y": {"datum": 0.111}}}
  ]},
  {"width": 100, "height": 131, "layer": [
   {"data": {"name": "c2c"}, "mark": {"type": "line", "color": "#1f8a1f", "strokeWidth": 1.2},
    "encoding": {"x": {"field": "t", "type": "quantitative", "scale": {"domain": [0, 15], "nice": false}, "axis": null},
     "y": {"field": "v", "type": "quantitative", "scale": {"domain": [0.15, 0.5], "nice": false, "zero": false}, "axis": {"values": [0.2, 0.3, 0.4, 0.5], "format": ".1f", "title": "[Ca\u00b2\u207a]cyt (Ratio) in Individual Cells", "titleX": -48, "titleY": 65, "titleBaseline": "middle"}}}},
   {"data": {"values": [{}]}, "mark": {"type": "rule", "strokeWidth": 2}, "encoding": {"x": {"datum": 0.2, "axis": null}, "x2": {"datum": 8.2}, "y": {"datum": 0.167}}},
   {"data": {"values": [{}]}, "mark": {"type": "text", "text": "1.8Ca"}, "encoding": {"x": {"datum": 4.2, "axis": null}, "y": {"datum": 0.131}}}
  ]},
  {"width": 100, "height": 131, "layer": [
   {"data": {"name": "c2j"}, "mark": {"type": "line", "color": "#931b93", "strokeWidth": 1.2},
    "encoding": {"x": {"field": "t", "type": "quantitative", "scale": {"domain": [0, 15], "nice": false}, "axis": null},
     "y": {"field": "v", "type": "quantitative", "scale": {"domain": [0.15, 0.5], "nice": false, "zero": false}, "axis": {"values": [0.2, 0.3, 0.4, 0.5], "labels": false, "title": null}}}},
   {"data": {"values": [{}]}, "mark": {"type": "rule", "strokeWidth": 2}, "encoding": {"x": {"datum": 0.75, "axis": null}, "x2": {"datum": 8.85}, "y": {"datum": 0.165}}},
   {"data": {"values": [{}]}, "mark": {"type": "text", "text": "1.8Ca"}, "encoding": {"x": {"datum": 4.4, "axis": null}, "y": {"datum": 0.131}}}
  ]},

  {"width": 100, "height": 139, "layer": [
   {"data": {"name": "b3c"}, "mark": {"type": "line", "color": "#1c1c8e", "strokeWidth": 1.2},
    "encoding": {"x": {"field": "t", "type": "quantitative", "scale": {"domain": [0, 15], "nice": false}, "axis": null},
     "y": {"field": "v", "type": "quantitative", "scale": {"domain": [0.13, 0.5], "nice": false, "zero": false}, "axis": {"values": [0.2, 0.3, 0.4, 0.5], "format": ".1f", "title": null, "domain": false}}}},
   {"data": {"values": [{}]}, "mark": {"type": "rule", "strokeWidth": 1.3}, "encoding": {"x": {"datum": 0, "axis": null}, "y": {"datum": 0.152}, "y2": {"datum": 0.5}}},
   {"data": {"values": [{}]}, "mark": {"type": "rule", "strokeWidth": 2}, "encoding": {"x": {"datum": 0.95, "axis": null}, "x2": {"datum": 8.85}, "y": {"datum": 0.165}}},
   {"data": {"values": [{}]}, "mark": {"type": "text", "text": "1.8Ca"}, "encoding": {"x": {"datum": 4.85, "axis": null}, "y": {"datum": 0.133}}}
  ]},
  {"width": 168, "height": 139, "layer": [
   {"data": {"name": "b3j"}, "mark": {"type": "line", "color": "#a51616", "strokeWidth": 1.2},
    "encoding": {"x": {"field": "t", "type": "quantitative", "scale": {"domain": [0, 25.2], "nice": false}, "axis": null},
     "y": {"field": "v", "type": "quantitative", "scale": {"domain": [0.13, 0.5], "nice": false, "zero": false}, "axis": {"values": [0.2, 0.3, 0.4, 0.5], "format": ".1f", "title": null, "domain": false}}}},
   {"data": {"values": [{}]}, "mark": {"type": "rule", "strokeWidth": 1.3}, "encoding": {"x": {"datum": 0, "axis": null}, "y": {"datum": 0.152}, "y2": {"datum": 0.5}}},
   {"data": {"values": [{}]}, "mark": {"type": "rule", "strokeWidth": 2}, "encoding": {"x": {"datum": 1.5, "axis": null}, "x2": {"datum": 9.4}, "y": {"datum": 0.165}}},
   {"data": {"values": [{}]}, "mark": {"type": "text", "text": "1.8Ca"}, "encoding": {"x": {"datum": 5.5, "axis": null}, "y": {"datum": 0.133}}}
  ]},
  {"width": 100, "height": 139, "layer": [
   {"data": {"name": "c3c"}, "mark": {"type": "line", "color": "#1f8a1f", "strokeWidth": 1.2},
    "encoding": {"x": {"field": "t", "type": "quantitative", "scale": {"domain": [0, 15], "nice": false}, "axis": null},
     "y": {"field": "v", "type": "quantitative", "scale": {"domain": [0.13, 0.5], "nice": false, "zero": false}, "axis": {"values": [0.2, 0.3, 0.4, 0.5], "format": ".1f", "title": null, "domain": false}}}},
   {"data": {"values": [{}]}, "mark": {"type": "rule", "strokeWidth": 1.3}, "encoding": {"x": {"datum": 0, "axis": null}, "y": {"datum": 0.152}, "y2": {"datum": 0.5}}},
   {"data": {"values": [{}]}, "mark": {"type": "rule", "strokeWidth": 2}, "encoding": {"x": {"datum": 0.8, "axis": null}, "x2": {"datum": 8.75}, "y": {"datum": 0.155}}},
   {"data": {"values": [{}]}, "mark": {"type": "text", "text": "1.8Ca"}, "encoding": {"x": {"datum": 4.65, "axis": null}, "y": {"datum": 0.119}}}
  ]},
  {"width": 100, "height": 139, "layer": [
   {"data": {"name": "c3j"}, "mark": {"type": "line", "color": "#931b93", "strokeWidth": 1.2},
    "encoding": {"x": {"field": "t", "type": "quantitative", "scale": {"domain": [0, 15], "nice": false}, "axis": null},
     "y": {"field": "v", "type": "quantitative", "scale": {"domain": [0.13, 0.5], "nice": false, "zero": false}, "axis": {"values": [0.2, 0.3, 0.4, 0.5], "format": ".1f", "title": null, "domain": false}}}},
   {"data": {"values": [{}]}, "mark": {"type": "rule", "strokeWidth": 1.3}, "encoding": {"x": {"datum": 0, "axis": null}, "y": {"datum": 0.152}, "y2": {"datum": 0.5}}},
   {"data": {"values": [{}]}, "mark": {"type": "rule", "strokeWidth": 2}, "encoding": {"x": {"datum": 0.25, "axis": null}, "x2": {"datum": 8.3}, "y": {"datum": 0.155}}},
   {"data": {"values": [{}]}, "mark": {"type": "text", "text": "1.8Ca"}, "encoding": {"x": {"datum": 4.4, "axis": null}, "y": {"datum": 0.119}}}
  ]},

  {"width": 100, "height": 131, "layer": [
   {"data": {"name": "b4c"}, "mark": {"type": "line", "color": "#1414ff", "strokeWidth": 1.8},
    "encoding": {"x": {"field": "t", "type": "quantitative", "scale": {"domain": [0, 15], "nice": false}, "axis": null},
     "y": {"field": "v", "type": "quantitative", "scale": {"domain": [0.15, 0.5], "nice": false, "zero": false}, "axis": {"values": [0.2, 0.3, 0.4, 0.5], "format": ".1f", "title": "[Ca\u00b2\u207a]cyt (Ratio)", "titleX": -46, "titleY": 56, "titleBaseline": "middle"}}}},
   {"data": {"values": [{}]}, "mark": {"type": "rule", "strokeWidth": 3}, "encoding": {"x": {"datum": 0.75, "axis": null}, "x2": {"datum": 8.7}, "y": {"datum": 0.169}}},
   {"data": {"values": [{}]}, "mark": {"type": "text", "text": "1.8Ca"}, "encoding": {"x": {"datum": 4.6, "axis": null}, "y": {"datum": 0.131}}},
   {"data": {"values": [{}]}, "mark": {"type": "rule", "strokeWidth": 2}, "encoding": {"x": {"datum": 13.25, "axis": null}, "x2": {"datum": 15.4}, "y": {"datum": 0.176}}},
   {"data": {"values": [{}]}, "mark": {"type": "text", "text": "2 min", "fontSize": 14}, "encoding": {"x": {"datum": 14.5, "axis": null}, "y": {"datum": 0.126}}}
  ]},
  {"width": 168, "height": 131, "layer": [
   {"data": {"name": "b4j"}, "mark": {"type": "line", "color": "#ff1414", "strokeWidth": 1.8},
    "encoding": {"x": {"field": "t", "type": "quantitative", "scale": {"domain": [0, 25.2], "nice": false}, "axis": null},
     "y": {"field": "v", "type": "quantitative", "scale": {"domain": [0.15, 0.5], "nice": false, "zero": false}, "axis": {"values": [0.2, 0.3, 0.4, 0.5], "format": ".1f", "title": null}}}},
   {"data": {"values": [{}]}, "mark": {"type": "rule", "strokeWidth": 3}, "encoding": {"x": {"datum": 1.5, "axis": null}, "x2": {"datum": 9.6}, "y": {"datum": 0.169}}},
   {"data": {"values": [{}]}, "mark": {"type": "text", "text": "1.8Ca"}, "encoding": {"x": {"datum": 5.55, "axis": null}, "y": {"datum": 0.131}}}
  ]},
  {"width": 100, "height": 131, "layer": [
   {"data": {"name": "c4c"}, "mark": {"type": "line", "color": "#2ee81a", "strokeWidth": 1.8},
    "encoding": {"x": {"field": "t", "type": "quantitative", "scale": {"domain": [0, 15], "nice": false}, "axis": null},
     "y": {"field": "v", "type": "quantitative", "scale": {"domain": [0.15, 0.5], "nice": false, "zero": false}, "axis": {"values": [0.2, 0.3, 0.4, 0.5], "format": ".1f", "title": "[Ca\u00b2\u207a]cyt (Ratio)", "titleX": -46, "titleY": 56, "titleBaseline": "middle"}}}},
   {"data": {"values": [{}]}, "mark": {"type": "rule", "strokeWidth": 3}, "encoding": {"x": {"datum": 0.3, "axis": null}, "x2": {"datum": 8.25}, "y": {"datum": 0.176}}},
   {"data": {"values": [{}]}, "mark": {"type": "text", "text": "1.8Ca"}, "encoding": {"x": {"datum": 4.05, "axis": null}, "y": {"datum": 0.139}}}
  ]},
  {"width": 100, "height": 131, "layer": [
   {"data": {"name": "c4j"}, "mark": {"type": "line", "color": "#ff14ff", "strokeWidth": 1.8},
    "encoding": {"x": {"field": "t", "type": "quantitative", "scale": {"domain": [0, 15], "nice": false}, "axis": null},
     "y": {"field": "v", "type": "quantitative", "scale": {"domain": [0.15, 0.5], "nice": false, "zero": false}, "axis": {"values": [0.2, 0.3, 0.4, 0.5], "format": ".1f", "title": null}}}},
   {"data": {"values": [{}]}, "mark": {"type": "rule", "strokeWidth": 3}, "encoding": {"x": {"datum": 0.3, "axis": null}, "x2": {"datum": 8.25}, "y": {"datum": 0.176}}},
   {"data": {"values": [{}]}, "mark": {"type": "text", "text": "1.8Ca"}, "encoding": {"x": {"datum": 4.35, "axis": null}, "y": {"datum": 0.139}}}
  ]}
 ]
},
{
 "hconcat": [
  {"width": 1, "height": 1, "data": {"values": [{}]}, "mark": {"type": "point", "opacity": 0}},
  {
   "width": 270, "height": 166,
   "title": {"text": "D", "anchor": "start", "frame": "group", "dx": -89, "dy": 24, "offset": 0, "baseline": "middle", "fontSize": 21, "fontWeight": "bold"},
   "data": {"values": [
    {"group": "CASR", "cond": "Control", "bar": "CASR Control", "mean": 0.168, "upper": 0.173},
    {"group": "CASR", "cond": "Jag-1", "bar": "CASR Jag-1", "mean": 0.207, "upper": 0.213},
    {"group": "CASR+STIM2", "cond": "Control", "bar": "CASR+STIM2 Control", "mean": 0.224, "upper": 0.232},
    {"group": "CASR+STIM2", "cond": "Jag-1", "bar": "CASR+STIM2 Jag-1", "mean": 0.269, "upper": 0.276}
   ]},
   "resolve": {"axis": {"y": "independent"}, "scale": {"fill": "independent", "color": "independent"}, "legend": {"fill": "independent", "color": "independent"}},
   "encoding": {"x": {"field": "bar", "type": "nominal", "scale": {"domain": ["CASR Control", "CASR Jag-1", "gap", "CASR+STIM2 Control", "CASR+STIM2 Jag-1"], "paddingInner": 0.444, "paddingOuter": 0.8},
    "axis": {"title": null, "ticks": false, "labelAngle": 0, "labelOverlap": false, "labelExpr": "datum.value == 'CASR Jag-1' ? 'CASR' : (datum.value == 'CASR+STIM2 Jag-1' ? 'CASR+STIM2' : '')", "labelOffset": -18, "labelFontStyle": "italic", "labelFontSize": 16, "labelPadding": 5}}},
   "layer": [
    {"transform": [{"filter": "datum.group == 'CASR'"}], "mark": {"type": "bar", "stroke": "#000", "strokeWidth": 1},
     "encoding": {"y": {"field": "mean", "type": "quantitative", "scale": {"domain": [0, 0.3], "nice": false}, "axis": {"values": [0, 0.05, 0.1, 0.15, 0.2, 0.25, 0.3], "format": ".2f", "labelPadding": 2, "labelOverlap": false, "title": ["Ca\u00b2\u207a-induced", "Rise in [Ca\u00b2\u207a]cyt (Ratio)"], "titleX": -74, "titleY": 83, "titleBaseline": "middle", "titleLineHeight": 20}},
      "fill": {"field": "cond", "type": "nominal", "scale": {"domain": ["Control", "Jag-1"], "range": ["#0000ff", "#ff0000"]}, "legend": {"orient": "none", "legendX": 278, "legendY": -2, "title": null, "symbolType": "square", "symbolSize": 150, "symbolStrokeColor": "#000", "symbolStrokeWidth": 1, "labelFontSize": 16, "labelOffset": 7, "rowPadding": 4}}}},
    {"transform": [{"filter": "datum.group == 'CASR+STIM2'"}], "mark": {"type": "bar", "stroke": "#000", "strokeWidth": 1},
     "encoding": {"y": {"field": "mean", "type": "quantitative", "axis": null},
      "color": {"field": "bar", "type": "nominal", "scale": {"domain": ["CASR+STIM2 Control", "CASR+STIM2 Jag-1"], "range": ["#00ff00", "#ff00ff"]}, "legend": {"orient": "none", "legendX": 278, "legendY": 75, "title": null, "symbolType": "square", "symbolSize": 150, "symbolStrokeColor": "#000", "symbolStrokeWidth": 1, "labelFontSize": 16, "labelOffset": 7, "rowPadding": 4, "labelExpr": "replace(datum.label, 'CASR+STIM2 ', '')"}}}},
    {"mark": {"type": "rule", "strokeWidth": 1.3}, "encoding": {"y": {"field": "mean", "type": "quantitative", "axis": null}, "y2": {"field": "upper"}}},
    {"mark": {"type": "tick", "thickness": 1.3, "size": 10, "color": "#000"}, "encoding": {"y": {"field": "upper", "type": "quantitative", "axis": null}}},
    {"data": {"values": [{}]}, "mark": {"type": "rule", "strokeWidth": 1.2}, "encoding": {"x": {"datum": "CASR Control", "type": "nominal"}, "y": {"datum": 0.175, "axis": null}, "y2": {"datum": 0.2916}}},
    {"data": {"values": [{}]}, "mark": {"type": "rule", "strokeWidth": 1.2}, "encoding": {"x": {"datum": "CASR Control", "type": "nominal"}, "x2": {"datum": "CASR Jag-1"}, "y": {"datum": 0.235, "axis": null}}},
    {"data": {"values": [{}]}, "mark": {"type": "rule", "strokeWidth": 1.2}, "encoding": {"x": {"datum": "CASR Jag-1", "type": "nominal"}, "y": {"datum": 0.214, "axis": null}, "y2": {"datum": 0.235}}},
    {"data": {"values": [{}]}, "mark": {"type": "rule", "strokeWidth": 1.2}, "encoding": {"x": {"datum": "CASR Control", "type": "nominal"}, "x2": {"datum": "CASR+STIM2 Control"}, "y": {"datum": 0.2916, "axis": null}}},
    {"data": {"values": [{}]}, "mark": {"type": "rule", "strokeWidth": 1.2}, "encoding": {"x": {"datum": "CASR+STIM2 Control", "type": "nominal"}, "y": {"datum": 0.233, "axis": null}, "y2": {"datum": 0.2916}}},
    {"data": {"values": [{}]}, "mark": {"type": "rule", "strokeWidth": 1.2}, "encoding": {"x": {"datum": "CASR+STIM2 Control", "type": "nominal"}, "x2": {"datum": "CASR+STIM2 Jag-1"}, "y": {"datum": 0.2916, "axis": null}}},
    {"data": {"values": [{}]}, "mark": {"type": "rule", "strokeWidth": 1.2}, "encoding": {"x": {"datum": "CASR+STIM2 Jag-1", "type": "nominal"}, "y": {"datum": 0.277, "axis": null}, "y2": {"datum": 0.2916}}},
    {"data": {"values": [{}]}, "mark": {"type": "text", "text": "*", "fontSize": 17, "baseline": "alphabetic"}, "encoding": {"x": {"datum": "CASR Control", "type": "nominal", "bandPosition": 1.4}, "y": {"datum": 0.234, "axis": null}}},
    {"data": {"values": [{}]}, "mark": {"type": "text", "text": "*", "fontSize": 17, "baseline": "alphabetic"}, "encoding": {"x": {"datum": "CASR Control", "type": "nominal", "bandPosition": 3.2}, "y": {"datum": 0.2905, "axis": null}}},
    {"data": {"values": [{}]}, "mark": {"type": "text", "text": "*", "fontSize": 17, "baseline": "alphabetic"}, "encoding": {"x": {"datum": "CASR+STIM2 Control", "type": "nominal", "bandPosition": 1.4}, "y": {"datum": 0.2905, "axis": null}}}
   ]
  }
 ],
 "bounds": "flush",
 "spacing": 27,
 "resolve": {"scale": {"fill": "independent", "color": "independent"}, "legend": {"fill": "independent", "color": "independent"}}
}
]
}
